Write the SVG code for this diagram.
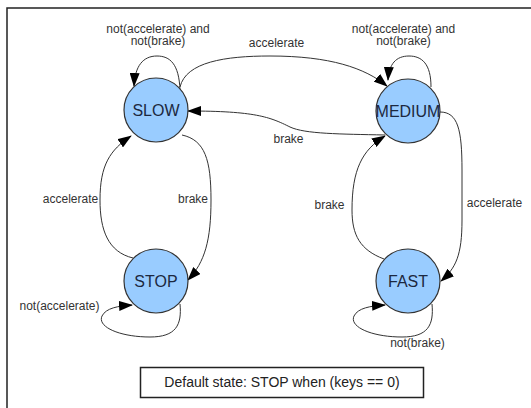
<svg xmlns="http://www.w3.org/2000/svg" width="531" height="408" viewBox="0 0 531 408">
  <defs>
    <marker id="arrow" markerUnits="userSpaceOnUse" markerWidth="14" markerHeight="10" viewBox="0 0 14 10" refX="13" refY="5" orient="auto">
      <path d="M0,0 L14,5 L0,10 Z" fill="#000"/>
    </marker>
    <style>
      .state circle { fill: #99ccff; stroke: #333; stroke-width: 1.2; }
      .state text { font-family: "Liberation Sans", Arial, sans-serif; font-size: 16px; fill: #1c2840; text-anchor: middle; }
      .edge { fill: none; stroke: #333; stroke-width: 1; marker-end: url(#arrow); }
      .lbl { font-family: "Liberation Sans", Arial, sans-serif; font-size: 12px; fill: #333; text-anchor: middle; }
      .frame { fill: none; stroke: #222; stroke-width: 1.5; }
    </style>
  </defs>

  <rect width="531" height="408" fill="#fff"/>
  <!-- page frame: top and left edges -->
  <path class="frame" d="M531,8 L7,8 L7,408"/>

  <!-- transitions -->
  <g id="connectors">
    <path class="edge" d="M180,90 C179,64 170,56 157,56 C143,56 135,66 134,86"/>
    <path class="edge" d="M180,87 C186,62 225,56 270,56 C330,56 365,68 387,86"/>
    <path class="edge" d="M385,135 C340,134 305,134 290,127 C270,117 255,111 188,111"/>
    <path class="edge" d="M431,87 C431,64 422,56 409,56 C396,56 389,64 388,80"/>
    <path class="edge" d="M440,112 C458,112 462,130 462,170 L462,220 C462,255 456,268 441,281"/>
    <path class="edge" d="M384,259 C360,250 352,235 352,210 C352,170 362,150 385,136"/>
    <path class="edge" d="M182,135 C205,140 211,160 211,200 C211,240 205,262 188,280"/>
    <path class="edge" d="M133,258 C108,252 100,230 100,200 C100,165 110,150 131,136"/>
    <path class="edge" d="M180,304 C182,325 176,337 150,337 C120,337 97,327 102,316 C106,308 118,306 132,305"/>
    <path class="edge" d="M432,304 C434,325 428,337 402,337 C372,337 349,327 354,316 C358,308 370,306 385,305"/>
  </g>

  <!-- transition labels -->
  <g id="labels">
    <text class="lbl" x="158" y="32.5">not(accelerate) and</text>
    <text class="lbl" x="158" y="45">not(brake)</text>
    <text class="lbl" x="403.5" y="32.5">not(accelerate) and</text>
    <text class="lbl" x="403.5" y="45">not(brake)</text>
    <text class="lbl" x="276.5" y="47">accelerate</text>
    <text class="lbl" x="288.5" y="143">brake</text>
    <text class="lbl" x="70.5" y="203">accelerate</text>
    <text class="lbl" x="193" y="203">brake</text>
    <text class="lbl" x="329.5" y="209">brake</text>
    <text class="lbl" x="494.5" y="207">accelerate</text>
    <text class="lbl" x="59.5" y="310">not(accelerate)</text>
    <text class="lbl" x="417.5" y="347">not(brake)</text>
  </g>

  <!-- states -->
  <g id="slow" class="state">
    <circle cx="156" cy="110" r="32"/>
    <text x="156" y="116">SLOW</text>
  </g>
  <g id="medium" class="state">
    <circle cx="408" cy="111" r="32"/>
    <text x="408" y="117">MEDIUM</text>
  </g>
  <g id="stop" class="state">
    <circle cx="156" cy="281" r="32"/>
    <text x="156" y="287">STOP</text>
  </g>
  <g id="fast" class="state">
    <circle cx="408" cy="281" r="32"/>
    <text x="408" y="287">FAST</text>
  </g>

  <!-- default state note -->
  <g id="default-note">
    <rect x="140.5" y="367.5" width="283" height="30" fill="#fff" stroke="#222" stroke-width="1.5"/>
    <text x="282" y="387" font-family="'Liberation Sans', Arial, sans-serif" font-size="14" fill="#222" text-anchor="middle">Default state: STOP when (keys == 0)</text>
  </g>
</svg>
